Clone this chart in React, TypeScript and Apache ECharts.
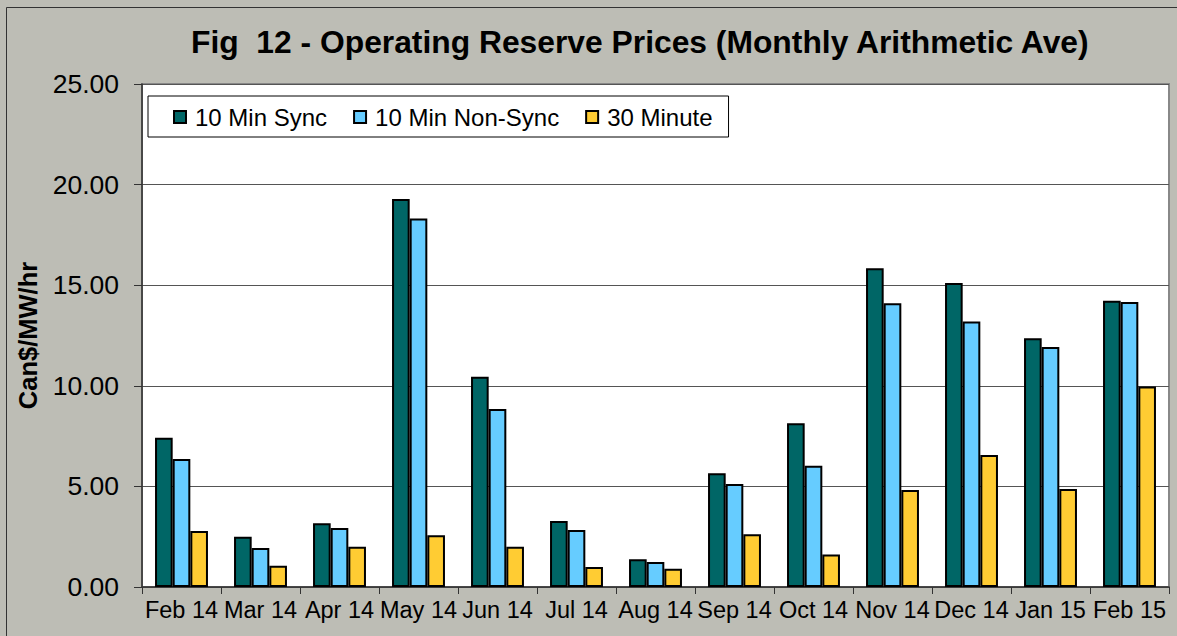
import React, { useEffect, useRef } from "react";
import * as echarts from "echarts";

const categories = ["Feb 14", "Mar 14", "Apr 14", "May 14", "Jun 14", "Jul 14", "Aug 14", "Sep 14", "Oct 14", "Nov 14", "Dec 14", "Jan 15", "Feb 15"];
const sync10 = [7.42, 2.5, 3.17, 19.28, 10.45, 3.28, 1.38, 5.65, 8.14, 15.84, 15.11, 12.36, 14.23];
const nonSync10 = [6.36, 1.94, 2.93, 18.32, 8.85, 2.83, 1.24, 5.12, 6.03, 14.1, 13.19, 11.93, 14.16];
const min30 = [2.78, 1.06, 2.0, 2.57, 2.0, 0.99, 0.91, 2.62, 1.62, 4.82, 6.56, 4.87, 9.96];
const seriesNames = ["10 Min Sync", "10 Min Non-Sync", "30 Minute"];
const colors = ["#006666", "#66CCFF", "#FFCC33"];

export default function App() {
  const ref = useRef<HTMLDivElement>(null);
  useEffect(() => {
    if (!ref.current) return;
    const chart = echarts.init(ref.current, undefined, { renderer: "svg" });
    const font = "Arial, 'Liberation Sans', sans-serif";
    const data = [sync10, nonSync10, min30];
    chart.setOption({
      animation: false,
      backgroundColor: "#BDBDB5",
      title: {
        text: "Fig  12 - Operating Reserve Prices (Monthly Arithmetic Ave)",
        left: 186,
        top: 21,
        textStyle: { fontFamily: font, fontSize: 31.8, fontWeight: "bold", color: "#000" },
      },
      graphic: [
        {
          type: "rect",
          shape: { x: 6.5, y: 7.5, width: 1200, height: 700 },
          style: { fill: "none", stroke: "#333", lineWidth: 1 },
          silent: true,
        },
      ],
      legend: {
        left: 148,
        top: 96,
        orient: "horizontal",
        backgroundColor: "#fff",
        borderColor: "#000",
        borderWidth: 1,
        padding: [9, 16, 8, 25],
        itemGap: 26,
        itemWidth: 12,
        itemHeight: 12,
        icon: "rect",
        textStyle: { fontFamily: font, fontSize: 24, color: "#000", padding: [0, 0, 0, 4] },
        data: seriesNames,
      },
      grid: {
        left: 142,
        right: 8,
        top: 84,
        bottom: 49,
        show: true,
        backgroundColor: "#fff",
        borderColor: "#888",
        borderWidth: 2,
      },
      xAxis: {
        type: "category",
        data: categories,
        boundaryGap: true,
        axisLine: { lineStyle: { color: "#333", width: 1.5 } },
        axisTick: { show: true, interval: 0, length: 7, lineStyle: { color: "#333" } },
        axisLabel: { interval: 0, fontFamily: font, fontSize: 23.5, color: "#000", margin: 11 },
      },
      yAxis: {
        type: "value",
        min: 0,
        max: 25,
        interval: 5,
        name: "Can$/MW/hr",
        nameLocation: "middle",
        nameGap: 101,
        nameTextStyle: { fontFamily: font, fontSize: 25.5, fontWeight: "bold", color: "#000" },
        axisLine: { show: true, lineStyle: { color: "#333", width: 1.5 } },
        axisTick: { show: true, length: 8, lineStyle: { color: "#333" } },
        axisLabel: {
          fontFamily: font,
          fontSize: 26.5,
          color: "#000",
          margin: 23,
          formatter: (v: number) => v.toFixed(2),
        },
        splitLine: { show: true, lineStyle: { color: "#555", width: 1 } },
      },
      series: seriesNames.map((name, i) => ({
        name,
        type: "bar",
        data: data[i],
        barGap: "0%",
        barCategoryGap: "33%",
        itemStyle: { color: colors[i], borderColor: "#000", borderWidth: 2 },
      })),
    });
    return () => chart.dispose();
  }, []);
  return <div ref={ref} style={{ position: "fixed", left: 0, top: 0, width: 1177, height: 636 }} />;
}
